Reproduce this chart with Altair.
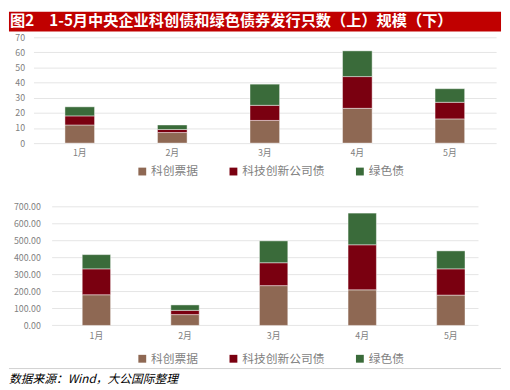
import altair as alt
import pandas as pd

months = ["1月", "2月", "3月", "4月", "5月"]
series = ["科创票据", "科技创新公司债", "绿色债"]
colors = ["#8E6853", "#7A0010", "#3A6B3A"]

# issuance count (top)
cnt_kcpj = [12, 7, 15, 23, 16]
cnt_kjcx = [6, 2, 10, 21, 11]
cnt_green = [6, 3, 14, 17, 9]
ticks_top = [0, 10, 20, 30, 40, 50, 60, 70]

# issuance scale (bottom)
amt_kcpj = [181, 64, 235, 210, 179]
amt_kjcx = [153, 25, 135, 266, 155]
amt_green = [84, 32, 129, 187, 106]
ticks_bot = [0, 100, 200, 300, 400, 500, 600, 700]

title_text = "图2　1-5月中央企业科创债和绿色债券发行只数（上）规模（下）"
source_text = "数据来源：Wind，大公国际整理"

FONT = "Noto Sans CJK SC"
GRID = "#E4E4E4"
LABEL = "#7F7F7F"


def long_df(a, b, c):
    rows = []
    for i, m in enumerate(months):
        for j, (s, vals) in enumerate(zip(series, [a, b, c])):
            rows.append({"month": m, "series": s, "value": vals[i], "ord": j})
    return pd.DataFrame(rows)


def yaxis(ticks, fmt, pad, grid, offset=0):
    return alt.Axis(title=None, values=ticks, format=fmt, ticks=False, domain=False,
                    grid=grid, gridColor=GRID, gridWidth=1, offset=offset,
                    labelColor=LABEL, labelFontSize=9, labelFont=FONT, labelPadding=pad)


def bars(df, ticks, yax, xrange, legx, legy):
    return alt.Chart(df).mark_bar(stroke="#ffffff", strokeOpacity=0.45, strokeWidth=1).encode(
        x=alt.X("month:N", sort=months,
                scale=alt.Scale(range=xrange, paddingInner=0.68, paddingOuter=0.34),
                axis=alt.Axis(title=None, labelAngle=0, ticks=False, domain=False, grid=False,
                              labelColor=LABEL, labelFontSize=9, labelFont=FONT, labelPadding=6)),
        y=alt.Y("value:Q", stack="zero",
                scale=alt.Scale(domain=[ticks[0], ticks[-1]], nice=False), axis=yax),
        color=alt.Color("series:N", scale=alt.Scale(domain=series, range=colors),
                        legend=alt.Legend(title=None, orient="none", legendX=legx, legendY=legy,
                                          direction="horizontal", symbolType="square",
                                          symbolSize=64, symbolStrokeWidth=0,
                                          labelFontSize=12, labelFont=FONT, labelColor=LABEL,
                                          labelOffset=3, columnPadding=29)),
        order=alt.Order("ord:Q", sort="ascending"),
    )


one = alt.Data(values=[{}])

# ---- top panel (counts) ----
top_w, top_h = 452, 108
banner = alt.Chart(one).mark_rect(color="#C00000").encode(
    x=alt.value(-24), x2=alt.value(478), y=alt.value(-26), y2=alt.value(-6))
banner_txt = alt.Chart(one).mark_text(text=title_text, color="white", fontWeight="bold",
                                      fontSize=15.5, font=FONT, align="left",
                                      baseline="middle").encode(
    x=alt.value(-23), y=alt.value(-16))

top = alt.layer(
    bars(long_df(cnt_kcpj, cnt_kjcx, cnt_green), ticks_top,
         yaxis(ticks_top, "d", 8, True), [1, 473], 106, 131),
    banner, banner_txt,
).properties(width=top_w, height=top_h)

# ---- bottom panel (amounts) ----
bot_w, bot_h = 455, 121
yax_bot = yaxis(ticks_bot, ".2f", 12, False, offset=-20)
grid_bot = alt.Chart(pd.DataFrame({"t": ticks_bot})).mark_rule(color=GRID, strokeWidth=1).encode(
    y=alt.Y("t:Q", scale=alt.Scale(domain=[ticks_bot[0], ticks_bot[-1]], nice=False), axis=yax_bot),
    x=alt.value(20), x2=alt.value(455))
rule = alt.Chart(one).mark_rule(color="#D0D0D0", strokeWidth=1).encode(
    x=alt.value(-24), x2=alt.value(478), y=alt.value(165))
src = alt.Chart(one).mark_text(text=source_text, color="black", fontStyle="italic",
                               fontSize=12, font=FONT, align="left", baseline="middle").encode(
    x=alt.value(-24), y=alt.value(176))

bottom = alt.layer(
    grid_bot,
    bars(long_df(amt_kcpj, amt_kjcx, amt_green), ticks_bot, yax_bot, [20, 472], 106, 149),
    rule, src,
).properties(width=bot_w, height=bot_h)

chart = alt.vconcat(top, bottom, spacing=26).resolve_scale(
    x="independent", y="independent", color="independent"
).resolve_legend(color="independent").configure(
    padding=0, background="white"
).configure_view(stroke=None)

chart.save("out.html", embed_options={"renderer": "svg", "actions": False})
